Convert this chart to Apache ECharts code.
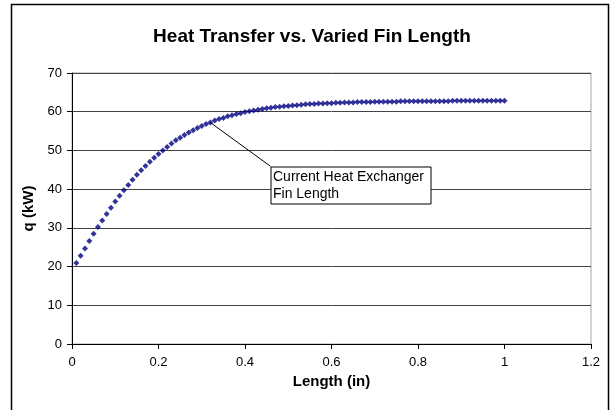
<!DOCTYPE html>
<html>
<head>
<meta charset="utf-8">
<script src="https://cdn.jsdelivr.net/npm/echarts@6/dist/echarts.min.js"></script>
<style>
  html, body { margin: 0; padding: 0; background: #fff; }
  #main { width: 613px; height: 410px; }
</style>
</head>
<body>
<div id="main"></div>
<script>
// fin length (in)
var lengths = [0.01,0.02,0.03,0.04,0.05,0.06,0.07,0.08,0.09,0.10,
  0.11,0.12,0.13,0.14,0.15,0.16,0.17,0.18,0.19,0.20,
  0.21,0.22,0.23,0.24,0.25,0.26,0.27,0.28,0.29,0.30,
  0.31,0.32,0.33,0.34,0.35,0.36,0.37,0.38,0.39,0.40,
  0.41,0.42,0.43,0.44,0.45,0.46,0.47,0.48,0.49,0.50,
  0.51,0.52,0.53,0.54,0.55,0.56,0.57,0.58,0.59,0.60,
  0.61,0.62,0.63,0.64,0.65,0.66,0.67,0.68,0.69,0.70,
  0.71,0.72,0.73,0.74,0.75,0.76,0.77,0.78,0.79,0.80,
  0.81,0.82,0.83,0.84,0.85,0.86,0.87,0.88,0.89,0.90,
  0.91,0.92,0.93,0.94,0.95,0.96,0.97,0.98,0.99,1.00];

// heat transfer q (kW)
var heatKW = [20.9,22.8,24.7,26.6,28.5,30.2,31.9,33.6,35.2,36.8,
  38.3,39.7,41.1,42.4,43.7,44.9,46.0,47.1,48.1,49.1,
  50.0,50.9,51.8,52.6,53.3,54.0,54.6,55.2,55.8,56.3,
  56.8,57.2,57.7,58.1,58.4,58.8,59.1,59.4,59.6,59.9,
  60.1,60.3,60.5,60.7,60.9,61.0,61.2,61.3,61.4,61.5,
  61.6,61.7,61.8,61.9,62.0,62.0,62.1,62.1,62.2,62.2,
  62.3,62.3,62.4,62.4,62.4,62.5,62.5,62.5,62.5,62.6,
  62.6,62.6,62.6,62.6,62.6,62.7,62.7,62.7,62.7,62.7,
  62.7,62.7,62.7,62.7,62.7,62.7,62.7,62.8,62.8,62.8,
  62.8,62.8,62.8,62.8,62.8,62.8,62.8,62.8,62.8,62.8];

// annotation: current fin length point and where the callout box sits
var currentPoint = [0.32, 57.2];
var calloutCorner = [0.459, 45.9];
var calloutText = 'Current Heat Exchanger\nFin Length';

var FONT = '"Liberation Sans", Arial, sans-serif';

var myChart = echarts.init(document.getElementById('main'));

var points = lengths.map(function (x, i) {
  return [x, heatKW[i]];
});

var option = {
  backgroundColor: '#fff',
  animation: false,
  title: {
    text: 'Heat Transfer vs. Varied Fin Length',
    left: 307,
    top: 22,
    textAlign: 'center',
    textStyle: { fontFamily: FONT, fontSize: 19, fontWeight: 'bold', color: '#000' }
  },
  grid: {
    left: 72, right: 22, top: 73, bottom: 66,
    show: true,
    borderColor: '#a6a6a6',
    borderWidth: 1,
    backgroundColor: 'transparent'
  },
  xAxis: {
    type: 'value',
    min: 0, max: 1.2, interval: 0.2,
    name: 'Length (in)',
    nameLocation: 'middle',
    nameGap: 30,
    nameTextStyle: { fontFamily: FONT, fontSize: 15, fontWeight: 'bold', color: '#000' },
    axisLine: { lineStyle: { color: '#000', width: 1 } },
    axisTick: { show: true, length: 5, lineStyle: { color: '#000' } },
    axisLabel: { fontFamily: FONT, fontSize: 13, color: '#000', margin: 12 },
    splitLine: { show: false }
  },
  yAxis: {
    type: 'value',
    min: 0, max: 70, interval: 10,
    name: 'q (kW)',
    nameLocation: 'middle',
    nameGap: 32,
    nameTextStyle: { fontFamily: FONT, fontSize: 15, fontWeight: 'bold', color: '#000' },
    axisLine: { show: true, lineStyle: { color: '#000', width: 1 } },
    axisTick: { show: true, length: 5, lineStyle: { color: '#000' } },
    axisLabel: { fontFamily: FONT, fontSize: 13, color: '#000', margin: 10 },
    splitLine: { show: true, lineStyle: { color: '#444', width: 1 } }
  },
  series: [{
    type: 'scatter',
    data: points,
    symbol: 'diamond',
    symbolSize: [6, 6],
    itemStyle: { color: '#000080' },
    z: 3,
    markLine: {
      silent: true,
      symbol: ['none', 'none'],
      label: { show: false },
      lineStyle: { color: '#000', width: 1, type: 'solid' },
      data: [[{ coord: currentPoint }, { coord: calloutCorner }]]
    }
  }],
  graphic: [{
    type: 'rect',
    shape: { x: 11.5, y: 4.5, width: 597, height: 430 },
    style: { fill: 'none', stroke: '#000', lineWidth: 1.5 },
    silent: true
  }, {
    type: 'rect',
    shape: { x: 271, y: 167, width: 160, height: 37 },
    style: { fill: '#fff', stroke: '#000', lineWidth: 1 },
    z: 10
  }, {
    type: 'text',
    left: 273,
    top: 169,
    z: 11,
    style: {
      text: calloutText,
      fontFamily: FONT,
      fontSize: 14,
      lineHeight: 17,
      fill: '#000'
    }
  }]
};

myChart.setOption(option);
</script>
</body>
</html>
